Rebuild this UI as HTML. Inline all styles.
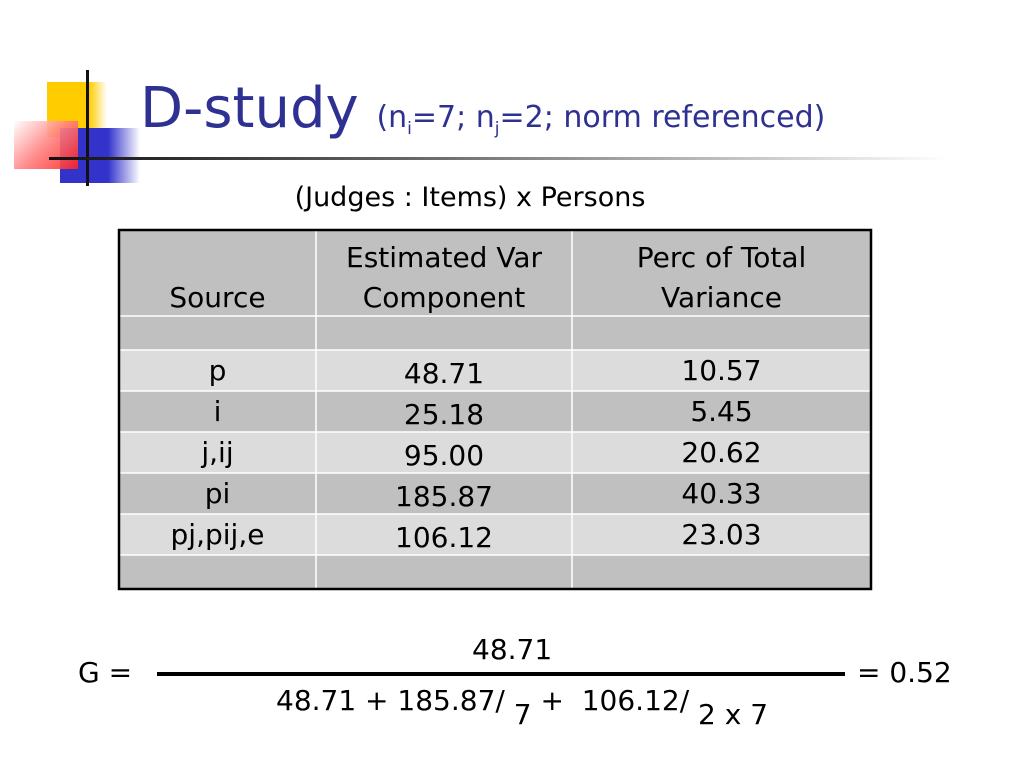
<!DOCTYPE html>
<html><head><meta charset="utf-8"><style>
body{margin:0;width:1024px;height:768px;background:#fff;position:relative;overflow:hidden;font-family:"DejaVu Sans","Liberation Sans",sans-serif;color:#000}
.a{position:absolute}
.t{position:absolute;font-size:28px;text-align:center;line-height:40px}
</style></head><body>
<div class="a" style="left:47px;top:82px;width:60px;height:55px;background:linear-gradient(90deg,#ffcc00 70%,#fff)"></div>
<div class="a" style="left:60px;top:128px;width:80px;height:55px;background:linear-gradient(90deg,#3333cc 60%,#fff)"></div>
<div class="a" style="left:14px;top:121px;width:64px;height:48px;background:linear-gradient(135deg,#fff 0%,#ff8080 50%,#ff2020 100%);opacity:.9"></div>
<div class="a" style="left:86px;top:70px;width:3px;height:116px;background:#111"></div>
<div class="a" style="left:49px;top:157px;width:900px;height:3px;background:linear-gradient(90deg,#111,#666 40%,#fff)"></div>
<div class="a" style="left:140px;top:76px;color:#2e3192;font-size:56px;white-space:nowrap">D-study <span style="font-size:30px">(n<sub style="font-size:17px">i</sub>=7; n<sub style="font-size:17px">j</sub>=2; norm referenced)</span></div>
<div class="t" style="left:170px;width:600px;top:178px;font-size:27px">(Judges : Items) x Persons</div>
<svg class="a" style="left:0;top:0" width="1024" height="768">
<rect x="119" y="230" width="752" height="86" fill="#c0c0c0"/>
<rect x="119" y="316" width="752" height="34" fill="#c0c0c0"/>
<rect x="119" y="350" width="752" height="41" fill="#dcdcdc"/>
<rect x="119" y="391" width="752" height="41" fill="#c0c0c0"/>
<rect x="119" y="432" width="752" height="41" fill="#dcdcdc"/>
<rect x="119" y="473" width="752" height="41" fill="#c0c0c0"/>
<rect x="119" y="514" width="752" height="41" fill="#dcdcdc"/>
<rect x="119" y="555" width="752" height="34" fill="#c0c0c0"/>
<g stroke="#fff" stroke-width="1.5">
<line x1="316" y1="230" x2="316" y2="589"/><line x1="572" y1="230" x2="572" y2="589"/>
<line x1="119" y1="316" x2="871" y2="316"/><line x1="119" y1="350" x2="871" y2="350"/>
<line x1="119" y1="391" x2="871" y2="391"/><line x1="119" y1="432" x2="871" y2="432"/>
<line x1="119" y1="473" x2="871" y2="473"/><line x1="119" y1="514" x2="871" y2="514"/>
<line x1="119" y1="555" x2="871" y2="555"/></g>
<rect x="119" y="230" width="752" height="359" fill="none" stroke="#000" stroke-width="2.5"/>
</svg>
<div class="t" style="left:119px;width:197px;top:278px">Source</div>
<div class="t" style="left:316px;width:256px;top:238px">Estimated Var<br>Component</div>
<div class="t" style="left:572px;width:299px;top:238px">Perc of Total<br>Variance</div>
<div class="t" style="left:119px;width:197px;top:350px;line-height:41px">p<br>i<br>j,ij<br>pi<br>pj,pij,e</div>
<div class="t" style="left:316px;width:256px;top:353px;line-height:41px">48.71<br>25.18<br>95.00<br>185.87<br>106.12</div>
<div class="t" style="left:572px;width:299px;top:350px;line-height:41px">10.57<br>5.45<br>20.62<br>40.33<br>23.03</div>
<div class="a" style="left:78px;top:656px;font-size:28px">G =</div>
<div class="a" style="left:472px;top:633px;font-size:28px">48.71</div>
<div class="a" style="left:157px;top:672px;width:688px;height:4px;background:#000"></div>
<div class="a" style="left:276px;top:684px;font-size:28px;white-space:nowrap">48.71 + 185.87/ <span style="position:relative;top:14px">7</span> +&nbsp; 106.12/ <span style="position:relative;top:14px">2 x 7</span></div>
<div class="a" style="left:857px;top:656px;font-size:28px">= 0.52</div>
</body></html>
